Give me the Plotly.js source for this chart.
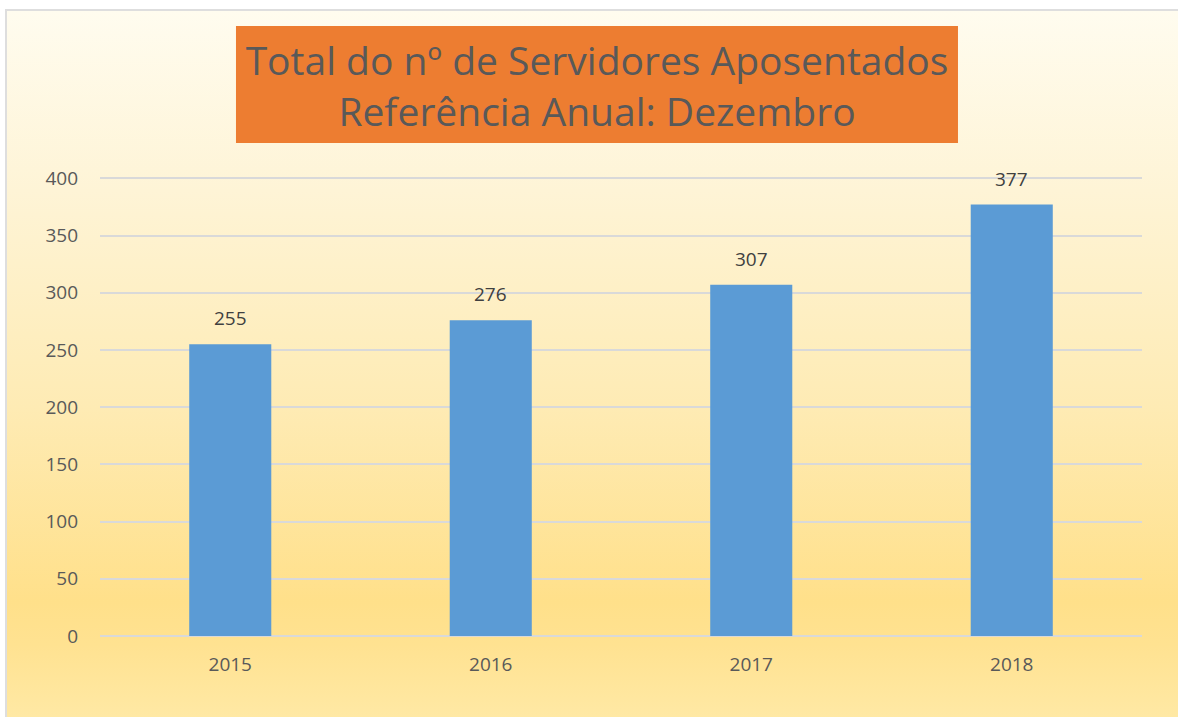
<!DOCTYPE html>
<html>
<head>
<meta charset="utf-8">
<script src="https://cdn.plot.ly/plotly-3.0.1.min.js"></script>
<style>
  html, body { margin: 0; padding: 0; background: #ffffff; }
  #wrap { position: relative; width: 1178px; height: 717px; overflow: hidden; }
  #bg {
    position: absolute; left: 5px; top: 9px; width: 1180px; height: 720px;
    border-left: 2px solid #dedede; border-top: 2px solid #dedede;
    background: linear-gradient(to bottom, #fffcef 0%, #fef4d6 25%, #feebb4 55%, #ffe08a 82%, #ffe291 88%, #ffeaa8 100%);
  }
  #chart { position: absolute; left: 0; top: 0; width: 1178px; height: 717px; }
</style>
</head>
<body>
<div id="wrap">
  <div id="bg"></div>
  <div id="chart"></div>
</div>
<script>
const categories = ["2015", "2016", "2017", "2018"];
const values = [255, 276, 307, 377];
const yTicks = [0, 50, 100, 150, 200, 250, 300, 350, 400];
const titleLines = ["Total do nº de Servidores Aposentados", "Referência Anual: Dezembro"];

const trace = {
  type: "bar",
  x: categories,
  y: values,
  marker: { color: "#5b9bd5" },
  hoverinfo: "x+y"
};

const labelAnnotations = categories.map((c, i) => ({
  x: i, y: values[i], xref: "x", yref: "y",
  text: String(values[i]),
  showarrow: false, yanchor: "bottom", yshift: 11,
  font: { family: "Open Sans, Noto Sans, sans-serif", size: 19, color: "#404040" }
}));

const layout = {
  width: 1178, height: 717,
  margin: { l: 100, r: 36, t: 176, b: 81 },
  paper_bgcolor: "rgba(0,0,0,0)",
  plot_bgcolor: "rgba(0,0,0,0)",
  bargap: 0.685,
  showlegend: false,
  title: {
    text: titleLines.join("<br>"),
    font: { family: "Open Sans, Noto Sans, sans-serif", size: 39, color: "#595959" },
    xref: "container", x: 0.5068, xanchor: "center",
    yref: "container", y: 0.8955, yanchor: "middle"
  },
  shapes: [{
    type: "rect", xref: "paper", yref: "paper",
    x0: 0.1305, x1: 0.8234, y0: 1.0717, y1: 1.3261,
    fillcolor: "#ed7d31", line: { width: 0 }, layer: "below"
  }],
  xaxis: {
    type: "category",
    range: [-0.5, 3.5], autorange: false,
    showgrid: false, showline: false, zeroline: false,
    ticks: "", ticklen: 0, ticklabelstandoff: 15,
    tickfont: { family: "Open Sans, Noto Sans, sans-serif", size: 19, color: "#595959" },
    automargin: false
  },
  yaxis: {
    range: [0, 402], autorange: false,
    tickvals: yTicks,
    showgrid: true, gridcolor: "#d9d9d9", gridwidth: 2,
    zeroline: true, zerolinecolor: "#d9d9d9", zerolinewidth: 2,
    showline: false, ticks: "", ticklen: 0,
    tickfont: { family: "Open Sans, Noto Sans, sans-serif", size: 19, color: "#595959" },
    ticklabelstandoff: 21,
    automargin: false
  },
  annotations: labelAnnotations
};

Plotly.newPlot("chart", [trace], layout, { displayModeBar: false, staticPlot: true });
</script>
</body>
</html>
